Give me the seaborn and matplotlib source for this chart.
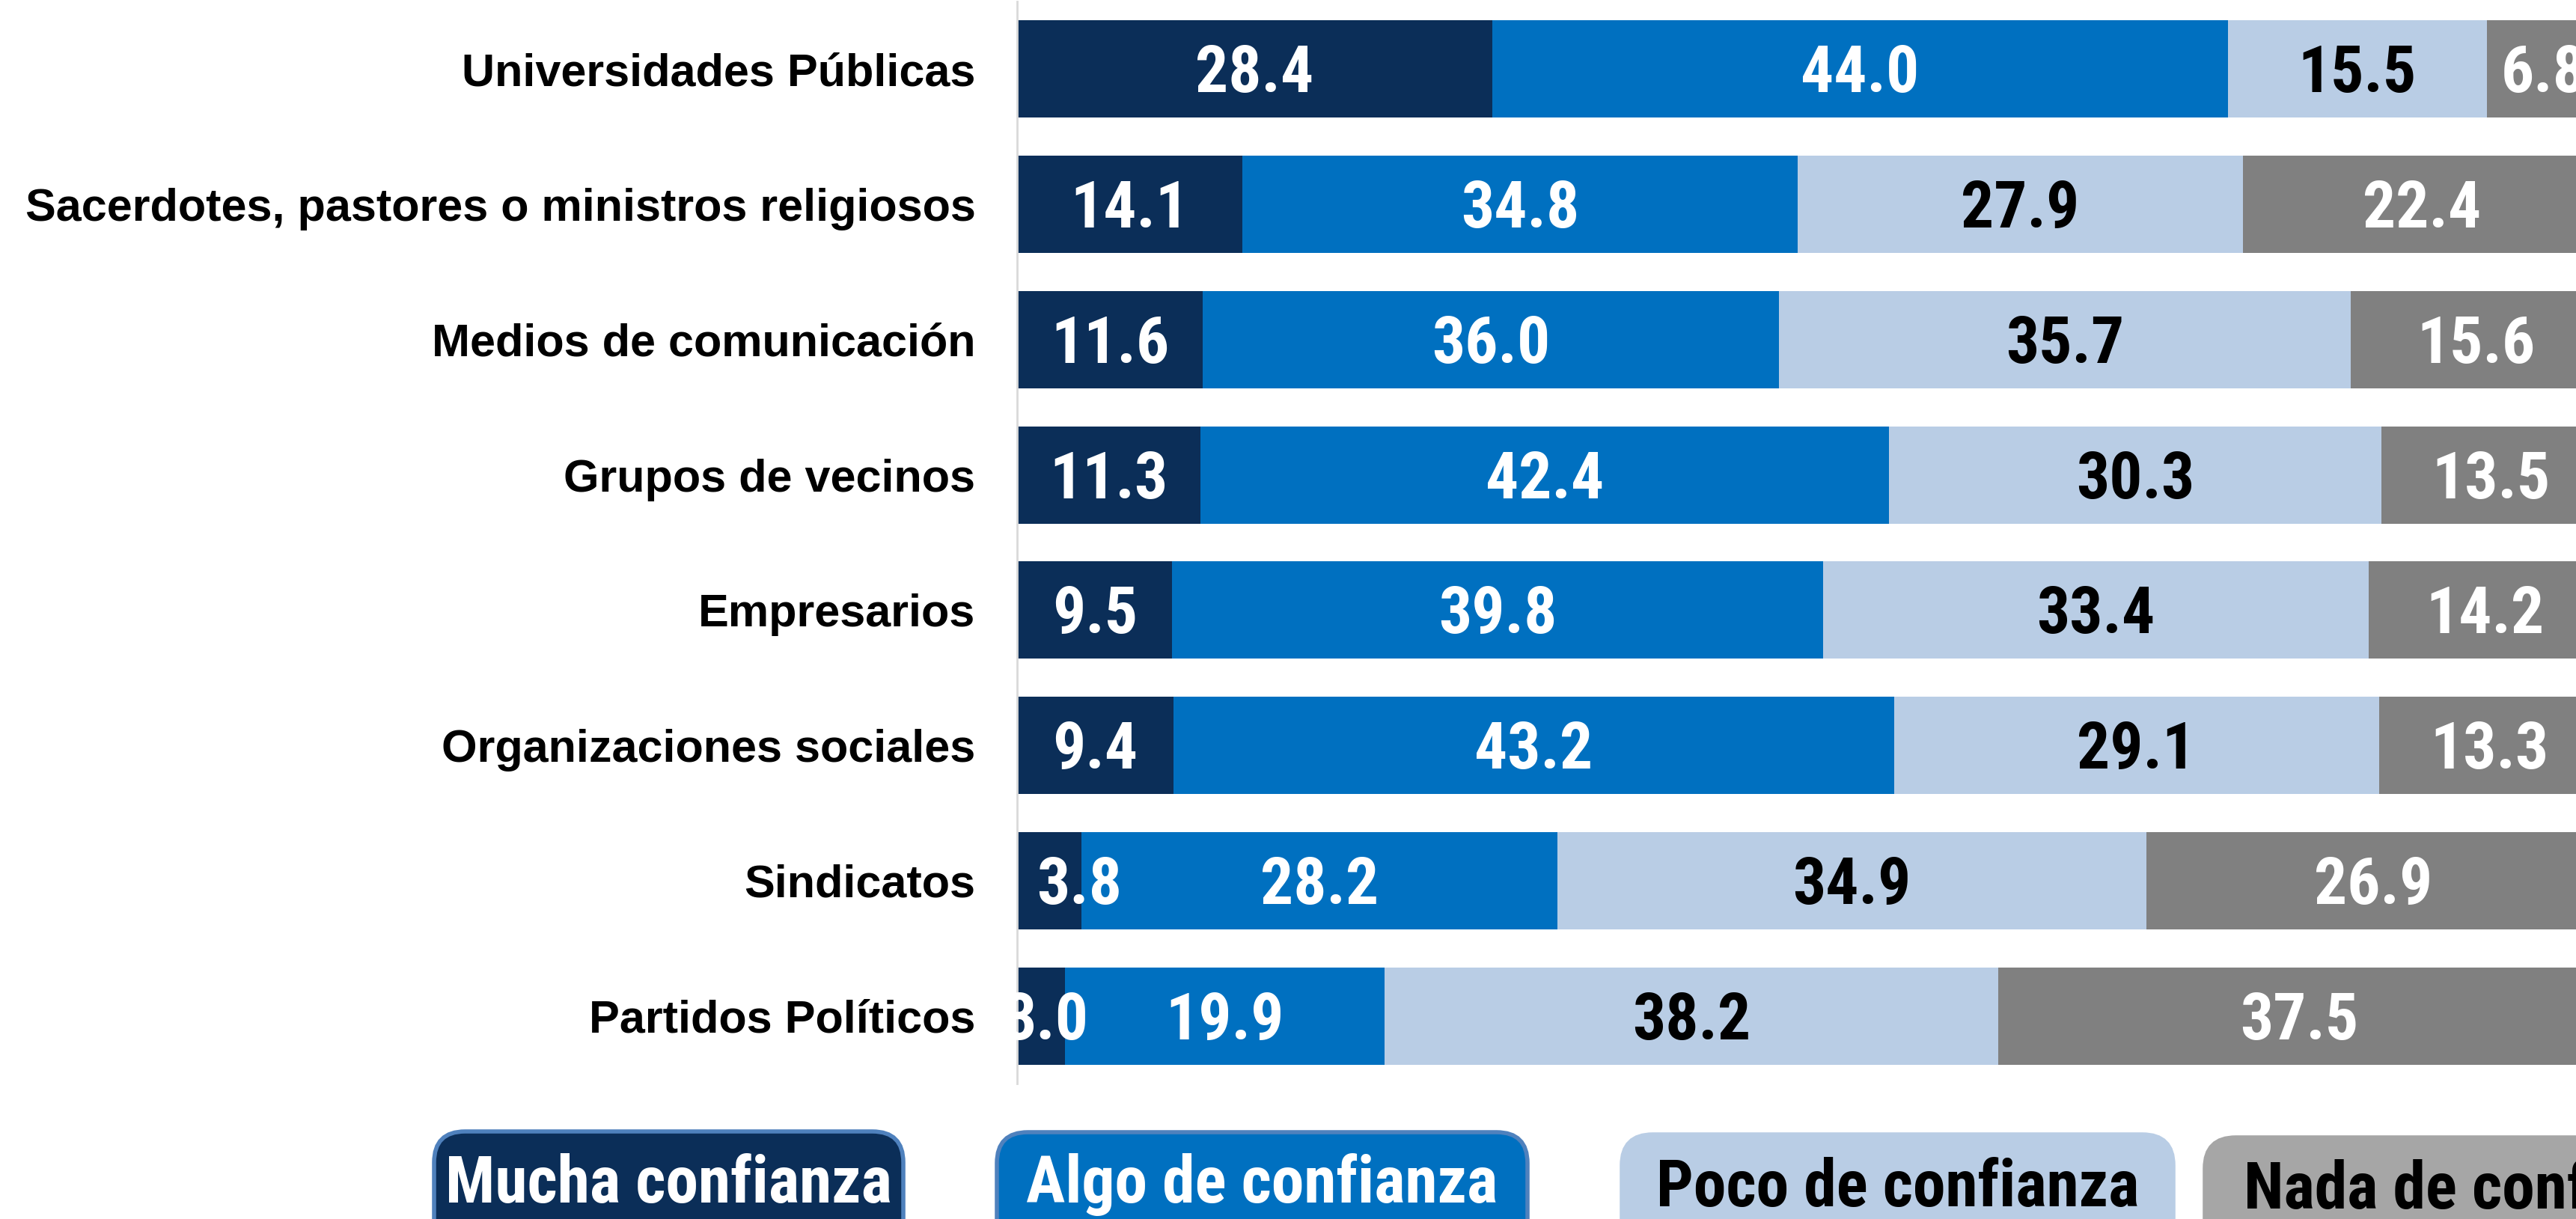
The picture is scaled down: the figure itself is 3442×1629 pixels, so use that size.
import numpy as np
import pandas as pd
import matplotlib
matplotlib.use("Agg")
import matplotlib.pyplot as plt
from matplotlib import font_manager
from matplotlib.font_manager import FontProperties
from matplotlib.patches import FancyBboxPatch
from matplotlib.patheffects import AbstractPathEffect
from matplotlib.transforms import Affine2D, ScaledTranslation
import seaborn as sns

# --- data -------------------------------------------------------------
categories = [
    "Universidades Públicas",
    "Sacerdotes, pastores o ministros religiosos",
    "Medios de comunicación",
    "Grupos de vecinos",
    "Empresarios",
    "Organizaciones sociales",
    "Sindicatos",
    "Partidos Políticos",
]
series_names = ["Mucha confianza", "Algo de confianza", "Poco de confianza", "Nada de confianza"]
mucha = [28.4, 14.1, 11.6, 11.3, 9.5, 9.4, 3.8, 3.0]
algo = [44.0, 34.8, 36.0, 42.4, 39.8, 43.2, 28.2, 19.9]
poco = [15.5, 27.9, 35.7, 30.3, 33.4, 29.1, 34.9, 38.2]
nada = [6.8, 22.4, 15.6, 13.5, 14.2, 13.3, 26.9, 37.5]

# --- style ------------------------------------------------------------
bar_colors = ["#0b2e58", "#0070c0", "#b9cde5", "#808080"]
legend_face = ["#0b2e58", "#0070c0", "#b9cde5", "#a6a6a6"]
legend_edge = ["#4f81bd", "#4f81bd", "#b9cde5", "#a6a6a6"]
value_text_colors = ["white", "white", "black", "white"]
legend_text_colors = ["white", "white", "black", "black"]

sns.set_style("white")

available = {f.name for f in font_manager.fontManager.ttflist}
label_font = "Liberation Sans" if "Liberation Sans" in available else "DejaVu Sans"
plt.rcParams["font.family"] = [label_font, "DejaVu Sans"]


def _is_bold(f):
    w = f.weight
    if isinstance(w, str):
        return "bold" in w.lower() or w.lower() in ("heavy", "black")
    return w >= 600


def _is_narrow(f):
    n = (f.name + " " + str(f.style) + " " + str(f.stretch)).lower()
    return "narrow" in n or "condensed" in n


# a bold condensed face for the numbers, if one is installed
narrow_pref = ["Liberation Sans Narrow", "Arial Narrow", "Roboto Condensed",
               "Noto Sans", "Open Sans", "DejaVu Sans"]
narrow_faces = [f for f in font_manager.fontManager.ttflist
                if _is_bold(f) and _is_narrow(f) and "italic" not in str(f.style).lower()
                and "mono" not in f.name.lower() and "serif" not in f.name.lower()]
narrow_faces.sort(key=lambda f: narrow_pref.index(f.name) if f.name in narrow_pref else 99)
if narrow_faces:
    num_font = FontProperties(fname=narrow_faces[0].fname)
    squeeze = 1.0
else:
    num_font = FontProperties(family=label_font, weight="bold")
    squeeze = 0.84


class HSqueeze(AbstractPathEffect):
    """Compress glyph outlines horizontally around the text anchor."""

    def __init__(self, text, sx):
        super().__init__()
        self.text, self.sx = text, sx

    def draw_path(self, renderer, gc, tpath, affine, rgbFace=None):
        cx = self.text.get_transform().transform(self.text.get_position())[0]
        squeeze_t = Affine2D().translate(-cx, 0).scale(self.sx, 1).translate(cx, 0)
        renderer.draw_path(gc, tpath, affine + squeeze_t, rgbFace)


def narrow_text(txt):
    if squeeze != 1.0:
        txt.set_path_effects([HSqueeze(txt, squeeze)])
    return txt


df = pd.DataFrame({"categoria": categories, "mucha": mucha, "algo": algo,
                   "poco": poco, "nada": nada})
parts = np.array([mucha, algo, poco, nada])
# each row is shown as a share of its own total (100% stacked bars)
shares = parts / parts.sum(axis=0) * 100
cum = np.cumsum(shares, axis=0)

W, H = 3442, 1629
fig = plt.figure(figsize=(W / 100, H / 100), dpi=100)
ax = fig.add_axes([1359 / W, 1 - 1448 / H, 1 - 1359 / W, (1448 - 2) / H])

# stacked bars: draw cumulative totals from the outermost layer inwards
for k in range(3, -1, -1):
    sns.barplot(x=cum[k], y=df["categoria"], orient="h", color=bar_colors[k],
                width=0.72, saturation=1, ax=ax, edgecolor="none", linewidth=0)

ax.set_xlim(0, 98.44)
ax.set_ylim(7.5, -0.5)
ax.set_xlabel("")
ax.set_ylabel("")
ax.set_xticks([])
for s in ["top", "right", "bottom"]:
    ax.spines[s].set_visible(False)
ax.spines["left"].set_color("#d9d9d9")
ax.spines["left"].set_linewidth(2)
ax.tick_params(axis="y", length=0, pad=40)
for t in ax.get_yticklabels():
    t.set_fontsize(44)
    t.set_fontweight("bold")
    t.set_color("black")

# value labels centered in each segment (small first segments nudged right)
nudge = {(6, 0): 1.9, (7, 0): 0.3}
down = ScaledTranslation(0, -0.31, fig.dpi_scale_trans)
for k in range(4):
    starts = cum[k] - shares[k]
    for i in range(len(categories)):
        x = starts[i] + shares[k][i] / 2 + nudge.get((i, k), 0)
        t = ax.text(x, i, f"{parts[k][i]:.1f}", ha="center", va="baseline",
                    fontproperties=num_font, fontsize=63, fontweight="bold",
                    color=value_text_colors[k], transform=ax.transData + down,
                    clip_on=False)
        narrow_text(t)

# legend: rounded boxes along the bottom edge
box_left = [580, 1332, 2167, 2946]
box_right = [1207, 2041, 2904, 3700]
box_top = [1512, 1513, 1516, 1520]
text_base = [1607, 1607, 1612, 1615]
for k, name in enumerate(series_names):
    x0, x1 = box_left[k] / W, box_right[k] / W
    y1 = 1 - box_top[k] / H
    y0 = y1 - 200 / H
    box = FancyBboxPatch((x0, y0), x1 - x0, y1 - y0, transform=fig.transFigure,
                         boxstyle="round,pad=0,rounding_size=0.012",
                         mutation_aspect=W / H,
                         fc=legend_face[k], ec=legend_edge[k], lw=4, zorder=1)
    fig.add_artist(box)
    if k < 3:
        tx, ha = (x0 + x1) / 2, "center"
    else:
        tx, ha = 2998 / W, "left"
    t = fig.text(tx, 1 - text_base[k] / H, name, ha=ha, va="baseline",
                 fontproperties=num_font, fontsize=63, fontweight="bold",
                 color=legend_text_colors[k], zorder=2)
    narrow_text(t)

fig.savefig("out.png", dpi=100, facecolor="white")
